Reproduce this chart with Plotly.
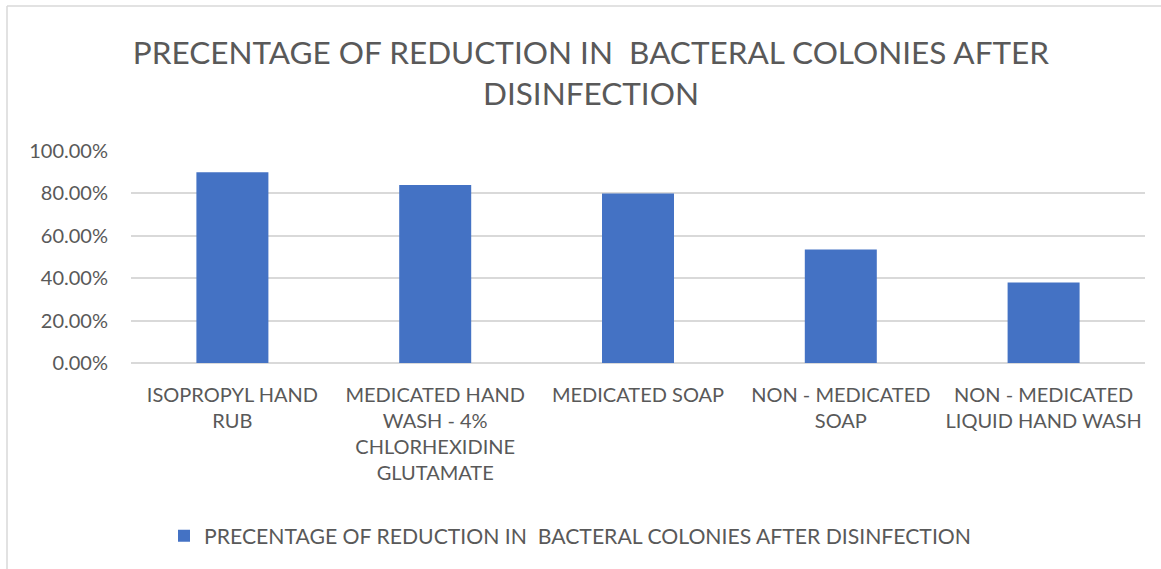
import plotly.graph_objects as go

# Disinfection methods and the share of bacterial colonies removed by each
methods = [
    "ISOPROPYL HAND<br>RUB",
    "MEDICATED HAND<br>WASH - 4%<br>CHLORHEXIDINE<br>GLUTAMATE",
    "MEDICATED SOAP",
    "NON - MEDICATED<br>SOAP",
    "NON - MEDICATED<br>LIQUID HAND WASH",
]
reduction = [0.90, 0.84, 0.80, 0.535, 0.38]
series_name = "PRECENTAGE OF REDUCTION IN  BACTERAL COLONIES AFTER DISINFECTION"
chart_title = "PRECENTAGE OF REDUCTION IN  BACTERAL COLONIES AFTER<br>DISINFECTION"
y_ticks = [0, 0.2, 0.4, 0.6, 0.8, 1.0]

FONT = "Lato"
GREY = "#595959"
W, H = 1161, 569
ML, MR, MT, MB = 131, 16, 151, 206

fig = go.Figure()
fig.add_trace(go.Bar(
    x=methods,
    y=reduction,
    name=series_name,
    marker=dict(color="#4472C4", line=dict(width=0)),
    width=0.355,
))

pw = W - ML - MR
ph = H - MT - MB

fig.update_layout(
    width=W, height=H,
    margin=dict(l=ML, r=MR, t=MT, b=MB, pad=0),
    paper_bgcolor="white",
    plot_bgcolor="white",
    font=dict(family=FONT, color=GREY),
    title=dict(
        text=chart_title,
        x=0.509, xanchor="center",
        y=1 - 64 / H, yanchor="middle",
        font=dict(family=FONT, size=31.5, color=GREY),
    ),
    showlegend=True,
    legend=dict(
        orientation="h",
        x=(570 - ML) / pw, xanchor="center",
        y=1 - 536 / H, yref="container", yanchor="middle",
        font=dict(family=FONT, size=21.2, color=GREY),
        itemwidth=30,
    ),
    xaxis=dict(
        tickfont=dict(family=FONT, size=20, color=GREY),
        showline=False,
        showgrid=False,
        ticks="",
        ticklabelstandoff=18,
    ),
    yaxis=dict(
        range=[0, 1.0],
        tickvals=y_ticks,
        tickformat=".2%",
        tickfont=dict(family=FONT, size=20, color=GREY),
        showgrid=True,
        gridcolor="#D9D9D9",
        gridwidth=1.5,
        zeroline=True,
        zerolinecolor="#D9D9D9",
        zerolinewidth=1.5,
        showline=False,
        ticks="",
        ticklabelstandoff=22,
    ),
    shapes=[
        # chart frame (left and top edges)
        dict(type="line", xref="paper", yref="paper",
             x0=(7 - ML) / pw, x1=(7 - ML) / pw,
             y0=-(H - MT) / ph, y1=(MT - 6) / ph + 1,
             line=dict(color="#D9D9D9", width=1.5)),
        dict(type="line", xref="paper", yref="paper",
             x0=(7 - ML) / pw, x1=(W + 5 - ML) / pw,
             y0=(MT - 6) / ph + 1, y1=(MT - 6) / ph + 1,
             line=dict(color="#D9D9D9", width=1.5)),
    ],
)

fig.write_html("out.html")
